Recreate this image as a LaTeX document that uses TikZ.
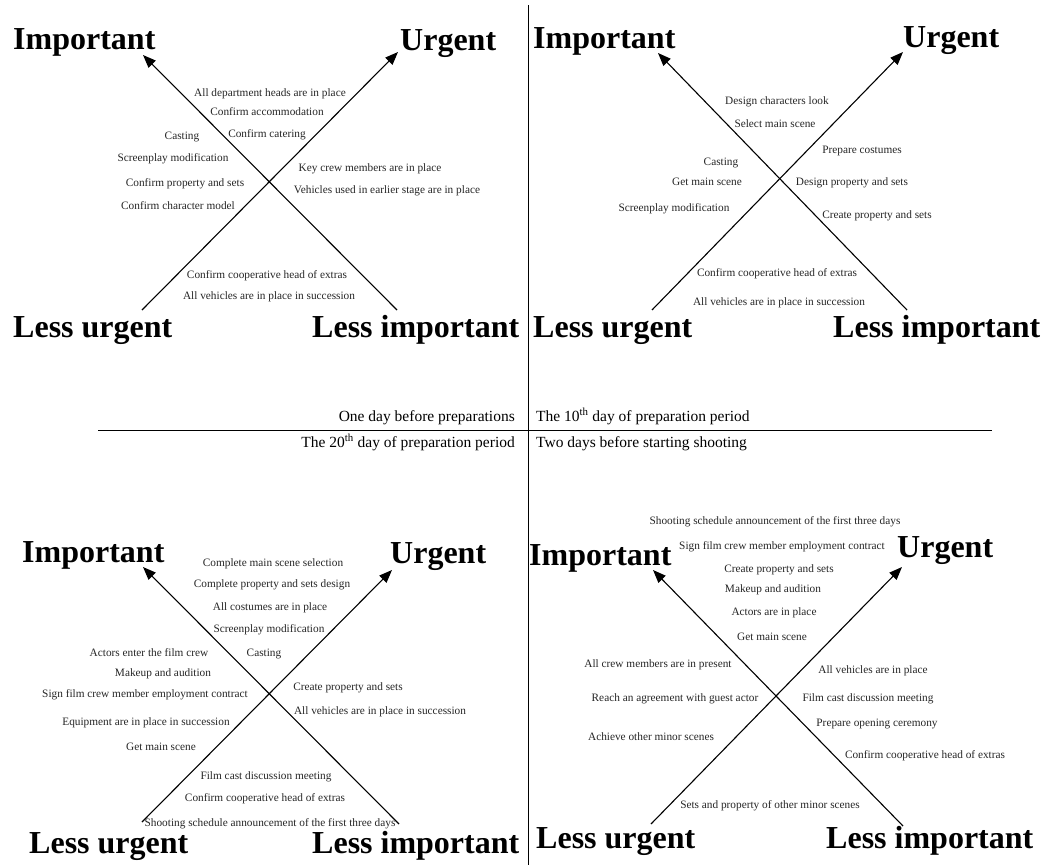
\documentclass[tikz,border=0pt]{standalone}
\usepackage{fontspec}
\setmainfont{Liberation Serif}
\usetikzlibrary{arrows.meta}
\begin{document}
\begin{tikzpicture}[x=1pt,y=-1pt,
  lbl/.style={font=\fontsize{11.3}{13}\selectfont, anchor=base, inner sep=0pt, text=black!85},
  big/.style={font=\fontsize{32}{36}\selectfont\bfseries, anchor=base west, inner sep=0pt},
  hdr/.style={font=\fontsize{15.5}{18}\selectfont, inner sep=0pt},
  axisarrow/.style={line width=1.1pt, -{Triangle[length=13pt,width=10pt]}},
  rule/.style={line width=0.9pt}]
\useasboundingbox (0,0) rectangle (1054,865);
\fill[white] (0,0) rectangle (1054,865);

% dividing lines
\coordinate (vtop) at (528,5);
\coordinate (vbot) at (528,865);
\coordinate (hl) at (98,430);
\coordinate (hr) at (992,430);
\draw[rule] (vtop) -- (vbot);
\draw[rule] (hl) -- (hr);

% headers
\node[hdr, anchor=base east] (h1) at (515,421) {One day before preparations};
\node[hdr, anchor=base west] (h2) at (536,421) {The 10\textsuperscript{th} day of preparation period};
\node[hdr, anchor=base east] (h3) at (515,447) {The 20\textsuperscript{th} day of preparation period};
\node[hdr, anchor=base west] (h4) at (536,447) {Two days before starting shooting};

% ===== Quadrant 1 =====
\coordinate (a1s) at (397,310); \coordinate (a1e) at (143,55);
\coordinate (b1s) at (142,310); \coordinate (b1e) at (398,52);
\draw[axisarrow] (a1s) -- (a1e);
\draw[axisarrow] (b1s) -- (b1e);
\node[big] (q1i) at (13,49) {Important};
\node[big] (q1u) at (400,50) {Urgent};
\node[big] (q1lu) at (13,337) {Less urgent};
\node[big] (q1li) at (312,337) {Less important};
\node[lbl] (q1t1) at (270,96) {All department heads are in place};
\node[lbl] (q1t2) at (267,115) {Confirm accommodation};
\node[lbl] (q1t3) at (267,137) {Confirm catering};
\node[lbl] (q1t4) at (182,139) {Casting};
\node[lbl] (q1t5) at (173,161) {Screenplay modification};
\node[lbl] (q1t6) at (185,186) {Confirm property and sets};
\node[lbl] (q1t7) at (178,209) {Confirm character model};
\node[lbl] (q1t8) at (370,171) {Key crew members are in place};
\node[lbl] (q1t9) at (387,193) {Vehicles used in earlier stage are in place};
\node[lbl] (q1t10) at (267,278) {Confirm cooperative head of extras};
\node[lbl] (q1t11) at (269,299) {All vehicles are in place in succession};

% ===== Quadrant 2 =====
\coordinate (a2s) at (907,310); \coordinate (a2e) at (658,53);
\coordinate (b2s) at (652,310); \coordinate (b2e) at (903,52);
\draw[axisarrow] (a2s) -- (a2e);
\draw[axisarrow] (b2s) -- (b2e);
\node[big] (q2i) at (533,48) {Important};
\node[big] (q2u) at (903,47) {Urgent};
\node[big] (q2lu) at (533,337) {Less urgent};
\node[big] (q2li) at (833,337) {Less important};
\node[lbl] (q2t1) at (777,104) {Design characters look};
\node[lbl] (q2t2) at (775,127) {Select main scene};
\node[lbl] (q2t3) at (862,153) {Prepare costumes};
\node[lbl] (q2t4) at (721,165) {Casting};
\node[lbl] (q2t5) at (707,185) {Get main scene};
\node[lbl] (q2t6) at (852,185) {Design property and sets};
\node[lbl] (q2t7) at (674,211) {Screenplay modification};
\node[lbl] (q2t8) at (877,218) {Create property and sets};
\node[lbl] (q2t9) at (777,276) {Confirm cooperative head of extras};
\node[lbl] (q2t10) at (779,305) {All vehicles are in place in succession};

% ===== Quadrant 3 =====
\coordinate (a3s) at (399,824); \coordinate (a3e) at (143,567);
\coordinate (b3s) at (142,822); \coordinate (b3e) at (392,570);
\draw[axisarrow] (a3s) -- (a3e);
\draw[axisarrow] (b3s) -- (b3e);
\node[big] (q3i) at (22,562) {Important};
\node[big] (q3u) at (390,563) {Urgent};
\node[big] (q3lu) at (29,853) {Less urgent};
\node[big] (q3li) at (312,853) {Less important};
\node[lbl] (q3t1) at (273,566) {Complete main scene selection};
\node[lbl] (q3t2) at (272,587) {Complete property and sets design};
\node[lbl] (q3t3) at (270,610) {All costumes are in place};
\node[lbl] (q3t4) at (269,632) {Screenplay modification};
\node[lbl] (q3t5) at (149,656) {Actors enter the film crew};
\node[lbl] (q3t6) at (264,656) {Casting};
\node[lbl] (q3t7) at (163,676) {Makeup and audition};
\node[lbl] (q3t8) at (145,697) {Sign film crew member employment contract};
\node[lbl] (q3t9) at (348,690) {Create property and sets};
\node[lbl] (q3t10) at (380,714) {All vehicles are in place in succession};
\node[lbl] (q3t11) at (146,725) {Equipment are in place in succession};
\node[lbl] (q3t12) at (161,750) {Get main scene};
\node[lbl] (q3t13) at (266,779) {Film cast discussion meeting};
\node[lbl] (q3t14) at (265,801) {Confirm cooperative head of extras};
\node[lbl] (q3t15) at (270,826) {Shooting schedule announcement of the first three days};

% ===== Quadrant 4 =====
\coordinate (a4s) at (903,826); \coordinate (a4e) at (653,570);
\coordinate (b4s) at (651,824); \coordinate (b4e) at (902,567);
\draw[axisarrow] (a4s) -- (a4e);
\draw[axisarrow] (b4s) -- (b4e);
\node[big] (q4i) at (529,565) {Important};
\node[big] (q4u) at (897,557) {Urgent};
\node[big] (q4lu) at (536,848) {Less urgent};
\node[big] (q4li) at (826,848) {Less important};
\node[lbl] (q4t1) at (775,524) {Shooting schedule announcement of the first three days};
\node[lbl] (q4t2) at (782,549) {Sign film crew member employment contract};
\node[lbl] (q4t3) at (779,572) {Create property and sets};
\node[lbl] (q4t4) at (773,592) {Makeup and audition};
\node[lbl] (q4t5) at (774,615) {Actors are in place};
\node[lbl] (q4t6) at (772,640) {Get main scene};
\node[lbl] (q4t7) at (658,667) {All crew members are in present};
\node[lbl] (q4t8) at (873,673) {All vehicles are in place};
\node[lbl] (q4t9) at (675,701) {Reach an agreement with guest actor};
\node[lbl] (q4t10) at (868,701) {Film cast discussion meeting};
\node[lbl] (q4t11) at (877,726) {Prepare opening ceremony};
\node[lbl] (q4t12) at (651,740) {Achieve other minor scenes};
\node[lbl] (q4t13) at (925,758) {Confirm cooperative head of extras};
\node[lbl] (q4t14) at (770,808) {Sets and property of other minor scenes};
\end{tikzpicture}
\end{document}
